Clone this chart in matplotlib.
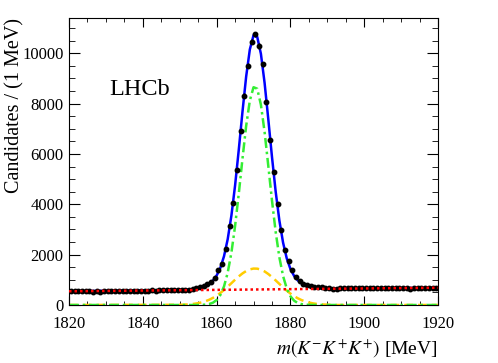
import numpy as np
import matplotlib
matplotlib.use('Agg')
import matplotlib.pyplot as plt
from matplotlib.ticker import MultipleLocator

# bin centres (1 MeV bins) and candidates per bin
mass = np.arange(1820.5, 1920.0, 1.0)
counts = [560, 545, 555, 540, 565, 550, 535, 545, 530, 540,
          555, 545, 560, 550, 545, 560, 570, 555, 565, 575,
          560, 570, 580, 575, 590, 600, 585, 595, 590, 605,
          600, 610, 615, 640,
          690, 720, 760, 820, 900, 1090, 1380, 1640, 2240, 3130,
          4060, 5380, 6900, 8310, 9500, 10450, 10750, 10290, 9560, 8060,
          6540, 5270, 4030, 2980, 2180, 1750, 1390, 1110, 940, 820,
          780, 760, 730, 720, 700, 680,
          660, 640, 655, 670, 665, 680, 670, 660, 675, 670,
          665, 680, 675, 670, 685, 670, 680, 675, 690, 680,
          675, 660, 630, 665, 680, 690, 675, 685, 680, 690]

# fit components (1 MeV grid over the peak region)
grid = [1820] + list(range(1850, 1893)) + [1920]
narrow = [0,
          0, 0, 0, 0, 0, 2, 6, 16, 40, 92,
          197, 395, 737, 1282, 2076, 3136, 4420, 5805, 7112, 8123,
          8651, 8591, 7954, 6868, 5528, 4149, 2904, 1895, 1153, 654,
          346, 171, 78, 34, 13, 5, 2, 0, 0, 0,
          0, 0, 0,
          0]
wide = [0,
        8, 13, 20, 32, 49, 73, 106, 151, 209, 282,
        371, 476, 596, 727, 865, 1004, 1136, 1254, 1348, 1415,
        1447, 1443, 1404, 1332, 1231, 1111, 977, 838, 701, 571,
        454, 352, 266, 196, 141, 99, 68, 45, 29, 19,
        11, 7, 0,
        0]
bkg_x = [1820, 1920]
bkg_y = [545, 685]

grid = np.array(grid, dtype=float)
bkg_on_grid = np.interp(grid, bkg_x, bkg_y)
total = bkg_on_grid + np.array(narrow) + np.array(wide)

plt.rcParams['font.family'] = 'Liberation Serif'
plt.rcParams['mathtext.fontset'] = 'stix'

fig = plt.figure(figsize=(4.98, 3.63), dpi=100)
ax = fig.add_axes([0.1386, 0.1598, 0.741, 0.7906])

ax.plot(grid, wide, color='#ffcc00', lw=1.8, ls=(0, (3.5, 2)), zorder=2)
ax.plot(grid, narrow, color='#33ee33', lw=1.8, ls=(0, (4, 1.5, 1, 1.5)), zorder=2)
ax.plot(grid, total, color='#0000ff', lw=1.8, zorder=4)
ax.errorbar(mass, counts, xerr=0.5, yerr=np.sqrt(counts), fmt='o', ms=3.2,
            color='black', ecolor='black', elinewidth=1.0, capsize=0, zorder=5)
ax.plot(bkg_x, bkg_y, color='#ff0000', lw=1.8, ls=(0, (1, 1.2)), zorder=6)

ax.set_xlim(1820, 1920)
ax.set_ylim(0, 11400)
ax.xaxis.set_major_locator(MultipleLocator(20))
ax.xaxis.set_minor_locator(MultipleLocator(5))
ax.yaxis.set_major_locator(MultipleLocator(2000))
ax.yaxis.set_minor_locator(MultipleLocator(500))
ax.tick_params(which='both', direction='in', top=True, right=True, labelsize=12)
ax.tick_params(axis='x', which='major', length=6.5, pad=8)
ax.tick_params(axis='x', which='minor', length=3.2)
ax.tick_params(axis='y', which='major', length=8, pad=4)
ax.tick_params(axis='y', which='minor', length=4.5)

ax.set_xlabel(r'$m(K^{-}K^{+}K^{+})$ [MeV]', fontsize=14, ha='right', x=1.0)
fig.text(15 / 498, 1 - 18 / 363, 'Candidates / (1 MeV)', rotation=90,
         ha='center', va='top', fontsize=14.5)
ax.text(0.11, 0.732, 'LHCb', transform=ax.transAxes, fontsize=17.5,
        va='baseline')

fig.savefig('out.png', dpi=100)
